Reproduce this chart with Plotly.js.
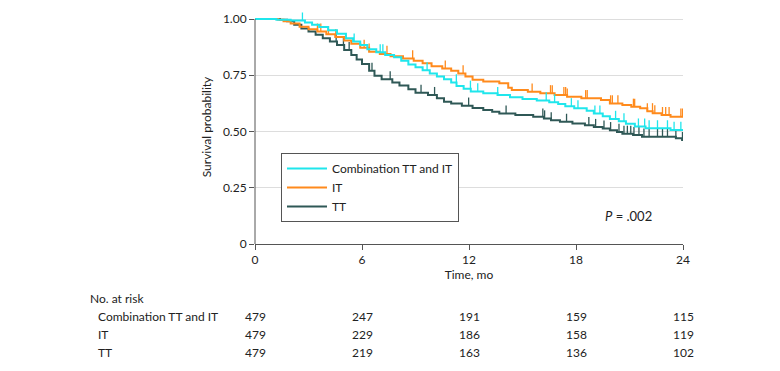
<!DOCTYPE html>
<html>
<head>
<meta charset="utf-8">
<script src="https://cdn.plot.ly/plotly-3.0.1.min.js"></script>
<style>
  html, body { margin: 0; padding: 0; background: #fff; }
  #chart { width: 780px; height: 371px; }
</style>
</head>
<body>
<div id="chart"></div>
<script>
// Kaplan-Meier step estimates (time in months, survival probability)
const comboTime = [0, 1.2, 2.0, 2.8, 3.2, 3.6, 4.1, 4.6, 5.1, 5.5, 5.9, 6.3, 6.8, 7.3, 7.8, 8.2, 8.6, 9.0, 9.4, 9.8, 10.2, 10.6, 11.0, 11.3, 11.7, 12.1, 12.8, 13.6, 14.3, 15.0, 15.8, 16.5, 17.0, 17.4, 17.9, 18.6, 19.0, 19.5, 19.9, 20.4, 20.8, 21.3, 21.9, 23.3, 24];
const comboSurv = [1, 0.997, 0.993, 0.985, 0.975, 0.965, 0.95, 0.935, 0.915, 0.9, 0.884, 0.866, 0.852, 0.84, 0.83, 0.815, 0.798, 0.786, 0.772, 0.758, 0.745, 0.732, 0.718, 0.702, 0.69, 0.678, 0.67, 0.662, 0.652, 0.645, 0.638, 0.63, 0.622, 0.612, 0.603, 0.592, 0.58, 0.568, 0.556, 0.545, 0.534, 0.522, 0.514, 0.507, 0.507];

const itTime = [0, 1.3, 1.6, 2.0, 2.5, 3.0, 3.5, 4.0, 4.5, 5.0, 5.4, 5.9, 6.4, 7.0, 7.6, 8.3, 8.9, 9.4, 9.9, 10.5, 11.0, 11.4, 11.8, 12.2, 12.8, 13.7, 14.2, 14.4, 15.3, 16.0, 16.8, 17.5, 18.3, 19.4, 19.9, 20.6, 21.1, 21.6, 22.0, 22.3, 22.8, 23.3, 24];
const itSurv = [1, 0.997, 0.99, 0.98, 0.966, 0.955, 0.944, 0.932, 0.92, 0.905, 0.89, 0.872, 0.855, 0.845, 0.835, 0.825, 0.815, 0.803, 0.79, 0.78, 0.77, 0.758, 0.744, 0.73, 0.722, 0.714, 0.695, 0.684, 0.677, 0.67, 0.662, 0.655, 0.648, 0.64, 0.625, 0.618, 0.61, 0.603, 0.59, 0.581, 0.573, 0.566, 0.566];

const ttTime = [0, 1.4, 1.8, 2.2, 2.6, 3.0, 3.4, 3.8, 4.2, 4.6, 5.0, 5.4, 5.7, 6.0, 6.4, 6.7, 7.1, 7.7, 8.1, 8.6, 9.0, 9.7, 10.2, 10.6, 11.0, 11.6, 12.2, 12.8, 13.3, 13.7, 14.6, 15.6, 16.2, 16.6, 17.1, 17.8, 18.5, 19.0, 19.5, 19.9, 20.3, 20.6, 21.2, 21.7, 23.6, 23.95, 24];
const ttSurv = [1, 0.997, 0.99, 0.975, 0.958, 0.945, 0.93, 0.915, 0.9, 0.885, 0.862, 0.84, 0.82, 0.8, 0.77, 0.748, 0.732, 0.718, 0.704, 0.688, 0.672, 0.662, 0.648, 0.632, 0.625, 0.615, 0.605, 0.596, 0.588, 0.58, 0.573, 0.566, 0.558, 0.55, 0.543, 0.536, 0.528, 0.52, 0.513, 0.506, 0.498, 0.49, 0.484, 0.477, 0.47, 0.462, 0.462];

// Censoring times (months)
const comboCensor = [2.66, 5.56, 7.02, 7.17, 9.65, 11.29, 12.08, 12.49, 13.61, 16.33, 16.8, 17.74, 18.11, 19.06, 19.34, 20.22, 20.69, 21.5, 21.85, 22.1, 22.57, 23.13, 23.5, 23.88];
const itCensor = [3.5, 3.69, 4.12, 4.53, 6.12, 6.4, 7.4, 8.84, 10.67, 11.67, 15.54, 16.57, 16.67, 17.32, 17.42, 17.51, 18.54, 18.63, 19.94, 20.04, 20.35, 21.22, 21.29, 22.0, 22.29, 22.42, 22.85, 23.03, 23.22, 23.88, 23.97];
const ttCensor = [4.55, 4.96, 5.28, 6.56, 7.58, 9.31, 10.07, 11.98, 14.08, 16.14, 16.24, 16.61, 17.47, 18.72, 19.1, 19.57, 19.94, 20.41, 20.69, 20.88, 21.07, 21.25, 21.53, 21.81, 22.1, 22.57, 22.85, 23.13, 23.6, 23.97];

// Number at risk table
const riskTimes = [0, 6, 12, 18, 24];
const riskLabels = ['Combination TT and IT', 'IT', 'TT'];
const riskCombo = [479, 247, 191, 159, 115];
const riskIT = [479, 229, 186, 158, 119];
const riskTT = [479, 219, 163, 136, 102];

const groupNames = ['Combination TT and IT', 'IT', 'TT'];
const colors = { combo: '#1fe6ec', it: '#ff8a1c', tt: '#2f5856' };

const FONT = 'Lato, "Open Sans", "DejaVu Sans", sans-serif';
const FS = 12;
const TEXT = '#222';
const TICK_H = 0.036;

function survAt(times, surv, t) {
  let s = surv[0];
  for (let i = 0; i < times.length; i++) {
    if (times[i] <= t) s = surv[i]; else break;
  }
  return s;
}

function censorTrace(times, surv, cens, color) {
  const x = [], y = [];
  cens.forEach(t => {
    const s = survAt(times, surv, t);
    x.push(t, t, null);
    y.push(s, s + TICK_H, null);
  });
  return {
    x, y, type: 'scatter', mode: 'lines', showlegend: false, hoverinfo: 'skip',
    line: { color, width: 1.3 }
  };
}

function kmTrace(times, surv, name, color) {
  return {
    x: times, y: surv, name, type: 'scatter', mode: 'lines',
    line: { color, width: 2, shape: 'hv' }
  };
}

const traces = [
  kmTrace(ttTime, ttSurv, groupNames[2], colors.tt),
  censorTrace(ttTime, ttSurv, ttCensor, colors.tt),
  kmTrace(itTime, itSurv, groupNames[1], colors.it),
  censorTrace(itTime, itSurv, itCensor, colors.it),
  kmTrace(comboTime, comboSurv, groupNames[0], colors.combo),
  censorTrace(comboTime, comboSurv, comboCensor, colors.combo)
];

// plot box geometry (pixels) used to place the risk table below the axis
const M = { l: 255, r: 97, t: 10, b: 127 };
const H = 371, W = 780;
const plotH = H - M.t - M.b;
const plotW = W - M.l - M.r;
const paperY = py => (H - M.b - py) / plotH;
const paperX = px => (px - M.l) / plotW;

const tf = { family: FONT, size: FS, color: TEXT };
const annotations = [];
annotations.push({
  text: 'No. at risk', xref: 'paper', yref: 'paper', x: paperX(88), y: paperY(298),
  xanchor: 'left', yanchor: 'middle', showarrow: false, font: tf
});
const rowY = [316, 334, 352];
const riskRows = [riskCombo, riskIT, riskTT];
riskLabels.forEach((lab, r) => {
  annotations.push({
    text: lab, xref: 'paper', yref: 'paper', x: paperX(96), y: paperY(rowY[r]),
    xanchor: 'left', yanchor: 'middle', showarrow: false, font: tf
  });
  riskTimes.forEach((t, i) => {
    annotations.push({
      text: String(riskRows[r][i]), xref: 'x', yref: 'paper', x: t, y: paperY(rowY[r]),
      xanchor: 'center', yanchor: 'middle', showarrow: false, font: tf
    });
  });
});
annotations.push({
  text: '<i>P</i> = .002', xref: 'x', yref: 'y', x: 22.4, y: 0.124,
  xanchor: 'right', yanchor: 'middle', showarrow: false, font: { family: FONT, size: 13, color: TEXT }
});

const layout = {
  width: W, height: H,
  margin: M,
  paper_bgcolor: '#fff', plot_bgcolor: '#fff',
  font: tf,
  showlegend: true,
  legend: {
    x: paperX(281), y: paperY(153), xanchor: 'left', yanchor: 'top',
    bordercolor: '#555', borderwidth: 1, bgcolor: '#fff',
    font: tf,
    traceorder: 'reversed', itemwidth: 40
  },
  xaxis: {
    range: [0, 24], tickvals: riskTimes, ticks: 'outside', ticklen: 5, tickcolor: '#555',
    showline: true, linecolor: '#555', linewidth: 1, showgrid: false, zeroline: false,
    tickfont: tf,
    title: { text: 'Time, mo', standoff: 1, font: tf },
    automargin: false
  },
  yaxis: {
    range: [0, 1.04], tickvals: [0, 0.25, 0.5, 0.75, 1], ticktext: ['0', '0.25', '0.50', '0.75', '1.00'],
    ticks: 'outside', ticklen: 5, tickcolor: '#555',
    showline: false, showgrid: true, gridcolor: '#dddddd', gridwidth: 1, zeroline: false,
    tickfont: tf,
    title: { text: 'Survival probability', standoff: 8, font: tf },
    automargin: false
  },
  shapes: [{
    type: 'line', xref: 'paper', yref: 'y', x0: 0, x1: 0, y0: 0, y1: 1,
    line: { color: '#555', width: 1 }
  }],
  annotations
};

Plotly.newPlot('chart', traces, layout, { displayModeBar: false, staticPlot: true });
</script>
</body>
</html>
